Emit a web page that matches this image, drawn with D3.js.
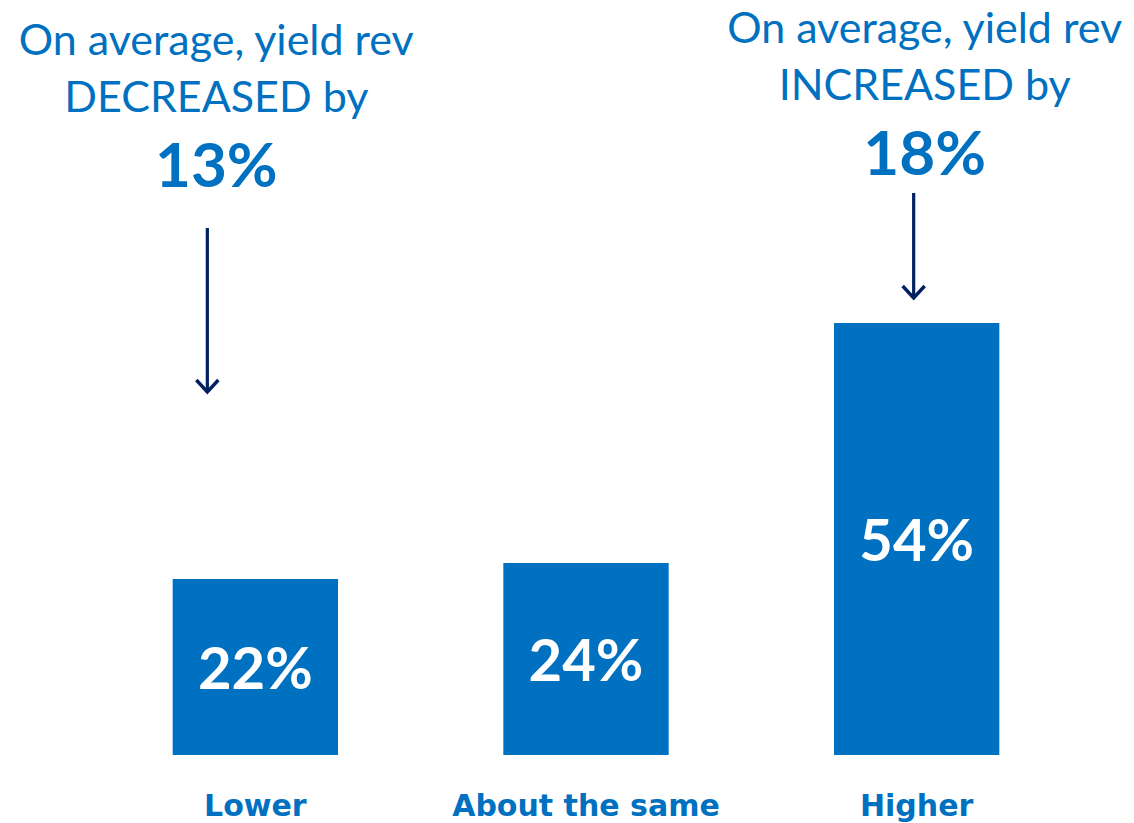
<!DOCTYPE html>
<meta charset="utf-8">
<style>
  body { margin: 0; background: #fff; }
  text { font-family: Lato, "Open Sans", sans-serif; }
</style>
<body>
<script src="https://d3js.org/d3.v7.min.js"></script>
<script>

var width = 1134,
    height = 823;

// data
var categories = ["Lower", "About the same", "Higher"];
var shares = [22, 24, 54];
var valueLabels = ["22%", "24%", "54%"];

// annotations above the outer bars
var noteLines = [
  ["On average, yield rev", "DECREASED by", "13%"],
  ["On average, yield rev", "INCREASED by", "18%"]
];
var noteCategory = ["Lower", "Higher"];

var blue = "#0070c0",
    navy = "#002060";

var svg = d3.select("body").append("svg")
    .attr("width", width)
    .attr("height", height);

var x = d3.scaleBand()
    .domain(categories)
    .range([90, 1082])
    .paddingInner(0.5)
    .paddingOuter(0.25);

var y = d3.scaleLinear()
    .domain([0, 54])
    .range([755, 323]);

var data = categories.map((c, i) => ({cat: c, v: shares[i], label: valueLabels[i]}));

svg.selectAll("rect.bar")
    .data(data)
    .enter().append("rect")
      .attr("class", "bar")
      .attr("x", d => x(d.cat))
      .attr("y", d => y(d.v))
      .attr("width", x.bandwidth())
      .attr("height", d => y(0) - y(d.v))
      .style("fill", blue);

// value inside bar, centred
svg.selectAll("text.val")
    .data(data)
    .enter().append("text")
      .attr("class", "val")
      .attr("x", d => x(d.cat) + x.bandwidth() / 2)
      .attr("y", d => (y(d.v) + y(0)) / 2 + 22)
      .attr("text-anchor", "middle")
      .style("font-size", "58px")
      .style("font-weight", "bold")
      .style("fill", "#fff")
      .text(d => d.label);

// category labels (wide bold face, like the original)
svg.selectAll("text.cat")
    .data(categories)
    .enter().append("text")
      .attr("class", "cat")
      .attr("x", d => x(d) + x.bandwidth() / 2)
      .attr("y", 816)
      .attr("text-anchor", "middle")
      .style("font-family", "'DejaVu Sans', sans-serif")
      .style("font-size", "30px")
      .style("font-weight", "bold")
      .style("fill", blue)
      .text(d => d);

// annotations: text block + arrow pointing at bar
var noteShift = [-39, 8],    // text centre relative to bar centre
    noteTop = [55, 43],      // first baseline
    arrowShift = [-48, -3],
    arrowTop = [228, 193];

var defs = svg.append("defs");
defs.append("marker")
    .attr("id", "head")
    .attr("viewBox", "0 0 26 26")
    .attr("refX", 23)
    .attr("refY", 13)
    .attr("markerWidth", 26)
    .attr("markerHeight", 26)
    .attr("markerUnits", "userSpaceOnUse")
    .attr("orient", "auto")
  .append("path")
    .attr("d", "M11,2 L23,13 L11,24")
    .attr("fill", "none")
    .attr("stroke", navy)
    .attr("stroke-width", 3.4);

noteLines.forEach(function(lines, k) {
  var cat = noteCategory[k],
      cx = x(cat) + x.bandwidth() / 2;
  var g = svg.append("g");
  lines.forEach(function(t, j) {
    g.append("text")
      .attr("x", cx + noteShift[k])
      .attr("y", noteTop[k] + j * 57 + (j == 2 ? 18 : 0))
      .attr("text-anchor", "middle")
      .style("font-size", j == 2 ? "62px" : "43px")
      .style("font-weight", j == 2 ? "bold" : "normal")
      .style("fill", blue)
      .text(t);
  });
  var ax = cx + arrowShift[k],
      v = shares[categories.indexOf(cat)];
  g.append("line")
      .attr("x1", ax)
      .attr("x2", ax)
      .attr("y1", arrowTop[k])
      .attr("y2", k == 0 ? 392 : y(v) - 25)
      .attr("stroke", navy)
      .attr("stroke-width", 3.2)
      .attr("marker-end", "url(#head)");
});

</script>
